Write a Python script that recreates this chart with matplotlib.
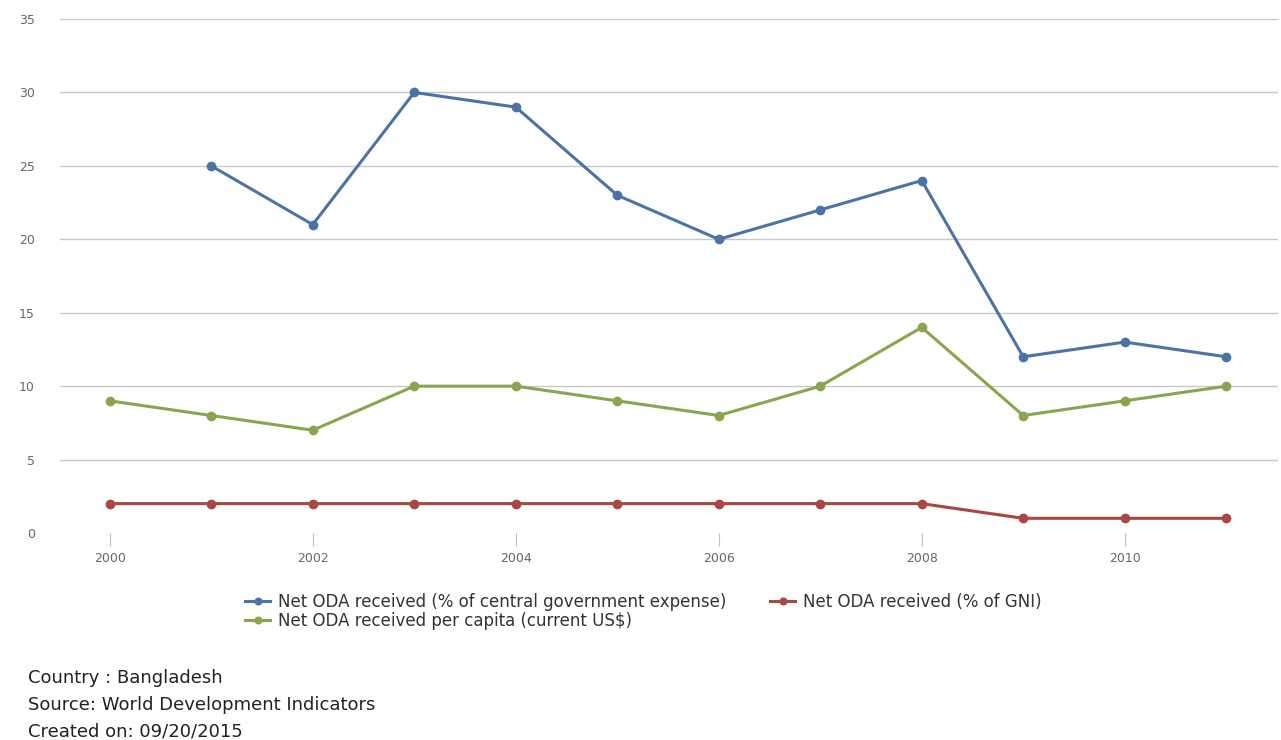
import numpy as np
import matplotlib
matplotlib.use('Agg')
import matplotlib.pyplot as plt

plt.rcParams['font.family'] = ['DejaVu Sans']

# ---------------------------------------------------------------------------- #
years = [2000, 2001, 2002, 2003, 2004, 2005, 2006, 2007, 2008, 2009, 2010, 2011]
oda_gov_expense = [np.nan, 25, 21, 30, 29, 23, 20, 22, 24, 12, 13, 12]
oda_gni = [2, 2, 2, 2, 2, 2, 2, 2, 2, 1, 1, 1]
oda_per_capita = [9, 8, 7, 10, 10, 9, 8, 10, 14, 8, 9, 10]

labels = ['Net ODA received (% of central government expense)',
          'Net ODA received (% of GNI)',
          'Net ODA received per capita (current US$)']
colors = ['#4b74a6', '#aa4643', '#89a54e']
footer = ['Country : Bangladesh',
          'Source: World Development Indicators',
          'Created on: 09/20/2015']

# ---------------------------------------------------------------------------- #
fig = plt.figure(figsize=(12.81, 7.40), dpi=100)
ax = fig.add_axes([60/1281, 1 - 533/740, 1218/1281, 514/740])

h1, = ax.plot(years, oda_gov_expense, '-o', color=colors[0], lw=2.2, ms=6, label=labels[0])
h2, = ax.plot(years, oda_gni, '-o', color=colors[1], lw=2.2, ms=6, label=labels[1])
h3, = ax.plot(years, oda_per_capita, '-o', color=colors[2], lw=2.2, ms=6, label=labels[2])

ax.set_ylim(0, 35)
ax.set_xlim(1999.51, 2011.51)
ax.set_yticks(np.arange(0, 36, 5))
ax.set_xticks(np.arange(2000, 2011, 2))
for y in np.arange(5, 36, 5):
    ax.axhline(y, color='#c8c8c8', lw=1, zorder=0)

for s in ax.spines.values():
    s.set_visible(False)
ax.tick_params(axis='y', length=0, pad=18, labelsize=9, labelcolor='#666666')
ax.tick_params(axis='x', length=9, width=0.8, color='#c0c0c0', pad=5,
               labelsize=9, labelcolor='#666666')

# legend: blue + green in the first column, red in the second
fig.legend([h1, h3, h2], [labels[0], labels[2], labels[1]], ncol=2,
           loc='upper left', bbox_to_anchor=(245/1281, 1 - 593/740),
           frameon=False, fontsize=12, labelcolor='#333333',
           handlelength=1.5, handletextpad=0.5, columnspacing=2.6,
           labelspacing=0.05, borderaxespad=0, borderpad=0, markerscale=0.8)

for i, t in enumerate(footer):
    fig.text(28/1281, 1 - (678 + 27*i)/740, t, fontsize=13, color='#222222',
             va='center', ha='left')

fig.savefig('out.png', dpi=100)
